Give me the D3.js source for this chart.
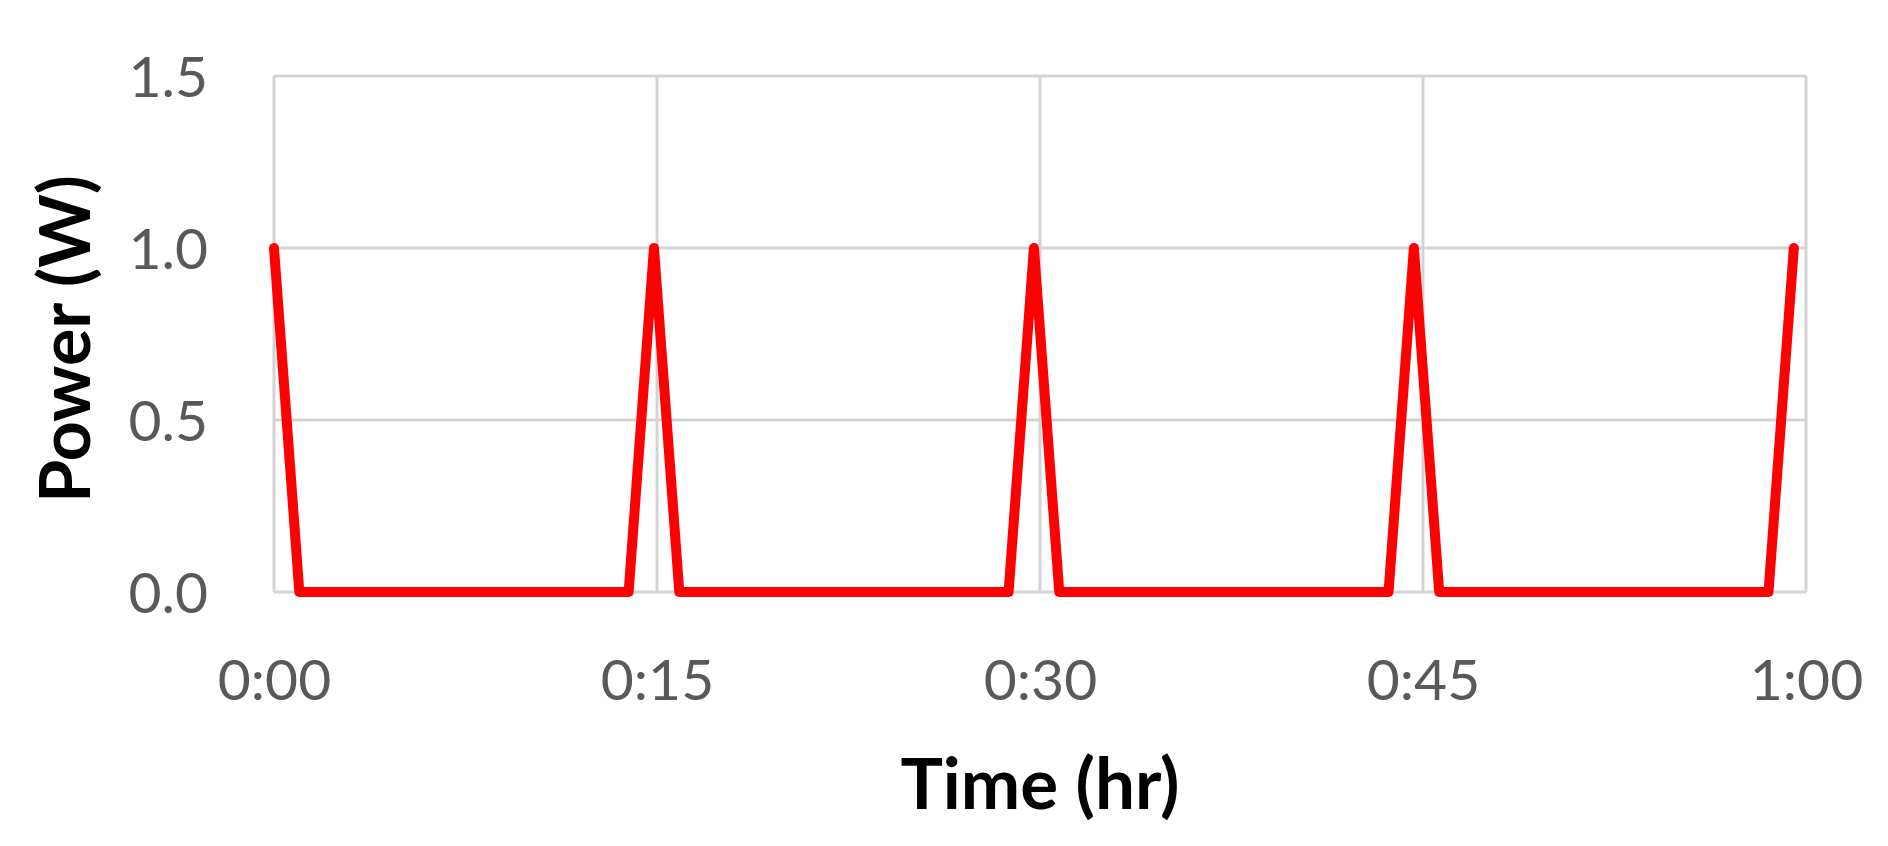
<!DOCTYPE html>
<meta charset="utf-8">
<html>
<head>
    <script src="https://d3js.org/d3.v7.min.js"></script>
</head>
<style>
    body { margin: 0; background: white; }
    .tick text { font-family: Lato, "Open Sans", sans-serif; fill: #595959; }
    .title { font-family: Lato, "Open Sans", sans-serif; font-weight: bold; fill: black; }
</style>
<body>
<div id="chartdiv"></div>
<script>

// minutes from the start, one sample every minute
var minutes = [0,1,2,3,4,5,6,7,8,9,10,11,12,13,14,15,16,17,18,19,20,
    21,22,23,24,25,26,27,28,29,30,31,32,33,34,35,36,37,38,39,40,
    41,42,43,44,45,46,47,48,49,50,51,52,53,54,55,56,57,58,59,60];

// power in W for each minute
var power = [1,0,0,0,0,0,0,0,0,0,0,0,0,0,0,1,0,0,0,0,0,
    0,0,0,0,0,0,0,0,0,1,0,0,0,0,0,0,0,0,0,0,
    0,0,0,0,1,0,0,0,0,0,0,0,0,0,0,0,0,0,0,1];

// excel's time axis: major unit 0.0105 day (15.12 min), max 0.042 day
var xTickValues = [0, 15.12, 30.24, 45.36, 60.48];
var xTickLabels = ["0:00", "0:15", "0:30", "0:45", "1:00"];
var yTickValues = [0, 0.5, 1.0, 1.5];

var width = 1888, height = 846;
var plot = {left: 274, right: 1806, top: 76, bottom: 592};

var svg = d3.select("#chartdiv")
    .append("svg")
        .attr("width", width)
        .attr("height", height);

svg.append("rect")
    .attr("width", width)
    .attr("height", height)
    .attr("fill", "white");

var x = d3.scaleLinear()
    .domain([0, 60.48])
    .range([plot.left, plot.right]);

var y = d3.scaleLinear()
    .domain([0, 1.5])
    .range([plot.bottom, plot.top]);

// gridlines
svg.append("g")
    .selectAll("line")
    .data(xTickValues).enter()
    .append("line")
        .attr("x1", d => x(d)).attr("x2", d => x(d))
        .attr("y1", plot.top).attr("y2", plot.bottom)
        .attr("stroke", "#d3d3d3")
        .attr("stroke-width", 3);

svg.append("g")
    .selectAll("line")
    .data(yTickValues).enter()
    .append("line")
        .attr("x1", plot.left).attr("x2", plot.right)
        .attr("y1", d => y(d)).attr("y2", d => y(d))
        .attr("stroke", "#d3d3d3")
        .attr("stroke-width", 3);

// axes (labels only)
var axisX = svg.append("g")
    .attr("transform", "translate(0," + plot.bottom + ")")
    .call(d3.axisBottom(x)
        .tickValues(xTickValues)
        .tickFormat((d, i) => xTickLabels[i])
        .tickSize(0)
        .tickPadding(108));
axisX.select(".domain").remove();
axisX.selectAll("text").style("font-size", "57px").attr("dy", "0");

var axisY = svg.append("g")
    .attr("transform", "translate(" + plot.left + ",0)")
    .call(d3.axisLeft(y)
        .tickValues(yTickValues)
        .tickFormat(d3.format(".1f"))
        .tickSize(0)
        .tickPadding(66));
axisY.select(".domain").remove();
axisY.selectAll("text").style("font-size", "57px").attr("dy", "0.36em");

// red power line
var line = d3.line()
    .x((d, i) => x(minutes[i]))
    .y(d => y(d));

svg.append("path")
    .datum(power)
    .attr("d", line)
    .attr("fill", "none")
    .attr("stroke", "#ff0000")
    .attr("stroke-width", 10)
    .attr("stroke-linejoin", "round")
    .attr("stroke-linecap", "round");

// axis titles
svg.append("text")
    .attr("class", "title")
    .attr("x", 1040)
    .attr("y", 809)
    .attr("text-anchor", "middle")
    .style("font-size", "71px")
    .text("Time (hr)");

svg.append("text")
    .attr("class", "title")
    .attr("transform", "translate(90,339) rotate(-90)")
    .attr("text-anchor", "middle")
    .style("font-size", "70px")
    .text("Power (W)");

</script>
</body>
</html>
